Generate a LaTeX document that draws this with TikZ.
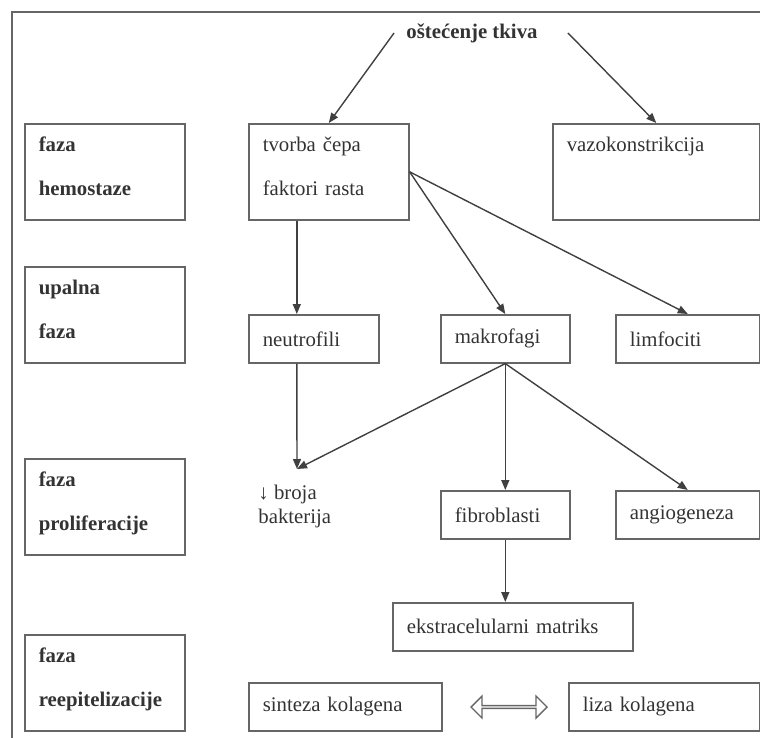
\documentclass[tikz,border=0pt]{standalone}
\usepackage{fontspec}
\setmainfont{Liberation Serif}
\usetikzlibrary{arrows.meta, positioning, shapes.arrows}

\begin{document}
\begin{tikzpicture}[
    x=0.5pt, y=-0.5pt,
    every node/.style={text=black!80},
    twolines/.style={text height=7pt, text depth=27pt},
    phasebox/.style={rectangle, draw=black!60, line width=0.8pt, anchor=north west, minimum width=80pt, minimum height=48pt, text width=66pt, twolines, inner xsep=7pt, align=left, font=\fontsize{10.4}{22}\selectfont\bfseries},
    block/.style={rectangle, draw=black!60, line width=0.8pt, anchor=north west, text width=#1, minimum height=24pt, inner xsep=7pt, align=left, font=\fontsize{10.4}{22}\selectfont},
    arrow/.style={draw, -{Triangle[length=5pt,width=4pt]}, line width=0.7pt, color=black!75}
]
\useasboundingbox (0,0) rectangle (760,738);
\draw [black!60, line width=0.8pt] (12,738) -- (12,12) -- (760,12);

% phases
\node [phasebox] (hemo) at (24,123) {faza\\hemostaze};
\node [phasebox] (infl) at (24,266) {upalna\\faza};
\node [phasebox] (prolif) at (24,458) {faza\\proliferacije};
\node [phasebox] (reepi) at (24,634) {faza\\reepitelizacije};

% events
\node [font=\fontsize{10.4}{22}\selectfont\bfseries, inner xsep=6pt] (damage) at (472,33) {oštećenje tkiva};
\node [block=66pt, minimum height=48pt, twolines] (plug) at (248,123) {tvorba čepa\\faktori rasta};
\node [block=89.5pt, minimum height=48pt, twolines] (vaso) at (552,123) {vazokonstrikcija\\\mbox{}};
\node [block=51pt] (neutro) at (248,314) {neutrofili};
\node [block=50.5pt] (macro) at (440,314) {makrofagi};
\node [block=58pt] (limfo) at (615,314) {limfociti};
\coordinate (hit) at (297,469);
\node [anchor=north west, inner sep=0pt, align=left, font=\fontsize{10.4}{12}\selectfont] (bact) at (258,485) {↓ broja\\bakterija};
\node [block=50.5pt] (fibro) at (440,490) {fibroblasti};
\node [block=58pt] (angio) at (615,490) {angiogeneza};
\node [block=106pt] (matrix) at (392,602) {ekstracelularni matriks};
\node [block=82.5pt] (synth) at (248,682) {sinteza kolagena};
\node [block=81.5pt] (lysis) at (568,682) {liza kolagena};
\node [double arrow, draw=black!60, fill=white, line width=0.7pt, minimum height=38pt, minimum width=11pt, double arrow head extend=2.5pt, inner sep=0pt] (swap) at (509,707) {};

\path [arrow] (damage.west) -- (plug.north);
\path [arrow] ([xshift=9pt]damage.east) -- (vaso.north);
\path [arrow] ([xshift=-16pt]plug.south) -- ([xshift=-8.5pt]neutro.north);
\path [arrow] (plug.east) -- (macro.north);
\path [arrow] (plug.east) -- (limfo.north);
\path [arrow] ([xshift=-8.5pt]neutro.south) -- (hit);
\path [arrow] (macro.south) -- (hit);
\path [arrow] (macro.south) -- (fibro.north);
\path [arrow] (macro.south) -- (angio.north);
\path [arrow] (fibro.south) -- (fibro.south |- matrix.north);
\end{tikzpicture}
\end{document}
